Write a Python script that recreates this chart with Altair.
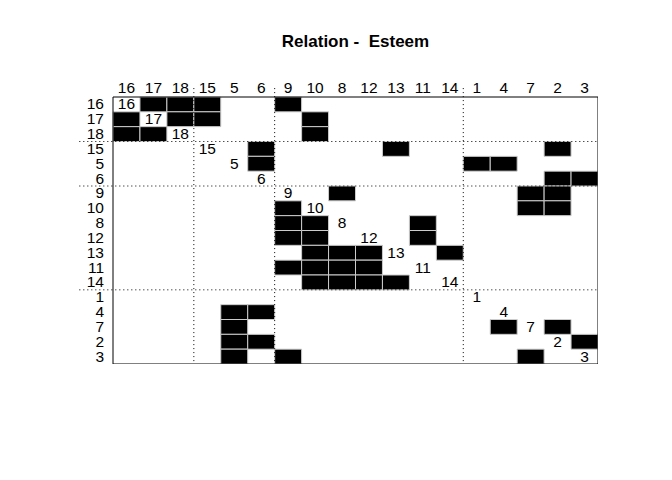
import altair as alt
import pandas as pd

order = ["16", "17", "18", "15", "5", "6", "9", "10", "8", "12", "13", "11", "14", "1", "4", "7", "2", "3"]
ties = {
    "16": ["17", "18", "15", "9"],
    "17": ["16", "18", "15", "10"],
    "18": ["16", "17", "10"],
    "15": ["6", "13", "2"],
    "5": ["6", "1", "4"],
    "6": ["2", "3"],
    "9": ["8", "7", "2"],
    "10": ["9", "7", "2"],
    "8": ["9", "10", "11"],
    "12": ["9", "10", "11"],
    "13": ["10", "8", "12", "14"],
    "11": ["9", "10", "8", "12"],
    "14": ["10", "8", "12", "13"],
    "1": [],
    "4": ["5", "6"],
    "7": ["5", "4", "2"],
    "2": ["5", "6", "3"],
    "3": ["5", "9", "7"],
}
block_breaks = [3, 6, 13]

pos = {n: i for i, n in enumerate(order)}
cells = pd.DataFrame(
    [{"x": pos[c], "x2": pos[c] + 1, "y": pos[r], "y2": pos[r] + 1} for r in order for c in ties[r]]
)
labels = pd.DataFrame({"name": order, "i": [i + 0.5 for i in range(len(order))]})

xs = alt.Scale(domain=[0, 18], nice=False, zero=False)
ys = alt.Scale(domain=[0, 18], nice=False, zero=False, reverse=True)
font = "Liberation Sans"
fs = 15.5

rects = alt.Chart(cells).mark_rect(color="black", stroke="#cccccc", strokeWidth=1).encode(
    x=alt.X("x:Q", scale=xs, axis=None), x2="x2", y=alt.Y("y:Q", scale=ys, axis=None), y2="y2"
)
frame = alt.Chart(pd.DataFrame({"a": [0], "b": [18]})).mark_rect(
    fillOpacity=0, stroke="black", strokeWidth=1
).encode(x=alt.X("a:Q", scale=xs), x2="b", y=alt.Y("a:Q", scale=ys), y2="b")
lab = alt.Chart(labels)
diag = lab.mark_text(font=font, fontSize=fs, color="black").encode(
    x=alt.X("i:Q", scale=xs), y=alt.Y("i:Q", scale=ys), text="name:N"
)
top = lab.mark_text(font=font, fontSize=fs, baseline="bottom", color="black", dy=-1).encode(
    x=alt.X("i:Q", scale=xs), y=alt.value(0), text="name:N"
)
left = lab.mark_text(font=font, fontSize=fs, align="right", dx=-9, color="black").encode(
    x=alt.value(0), y=alt.Y("i:Q", scale=ys), text="name:N"
)
br = pd.DataFrame({"b": block_breaks, "lo": -0.6, "hi": 19.2, "l": -1.25, "r": 20.2})
vlines = alt.Chart(br).mark_rule(color="black", strokeDash=[1, 3]).encode(
    x=alt.X("b:Q", scale=xs), y=alt.Y("lo:Q", scale=ys), y2="hi"
)
hlines = alt.Chart(br).mark_rule(color="black", strokeDash=[1, 3]).encode(
    y=alt.Y("b:Q", scale=ys), x=alt.X("l:Q", scale=xs), x2="r"
)
title = alt.Chart(pd.DataFrame({"t": ["Relation -\u00a0 Esteem"], "x": [9], "y": [-3.7]})).mark_text(
    font=font, fontSize=17, fontWeight="bold", color="black"
).encode(x=alt.X("x:Q", scale=xs), y=alt.Y("y:Q", scale=ys), text="t:N")

chart = (
    alt.layer(rects, frame, diag, top, left, vlines, hlines, title)
    .properties(width=485, height=267, autosize=alt.AutoSizeParams(type="none"),
                padding={"left": 105, "top": 89, "right": 0, "bottom": 0})
    .configure_view(stroke=None)
)
chart.save("out.html", embed_options={"renderer": "svg", "actions": False})
